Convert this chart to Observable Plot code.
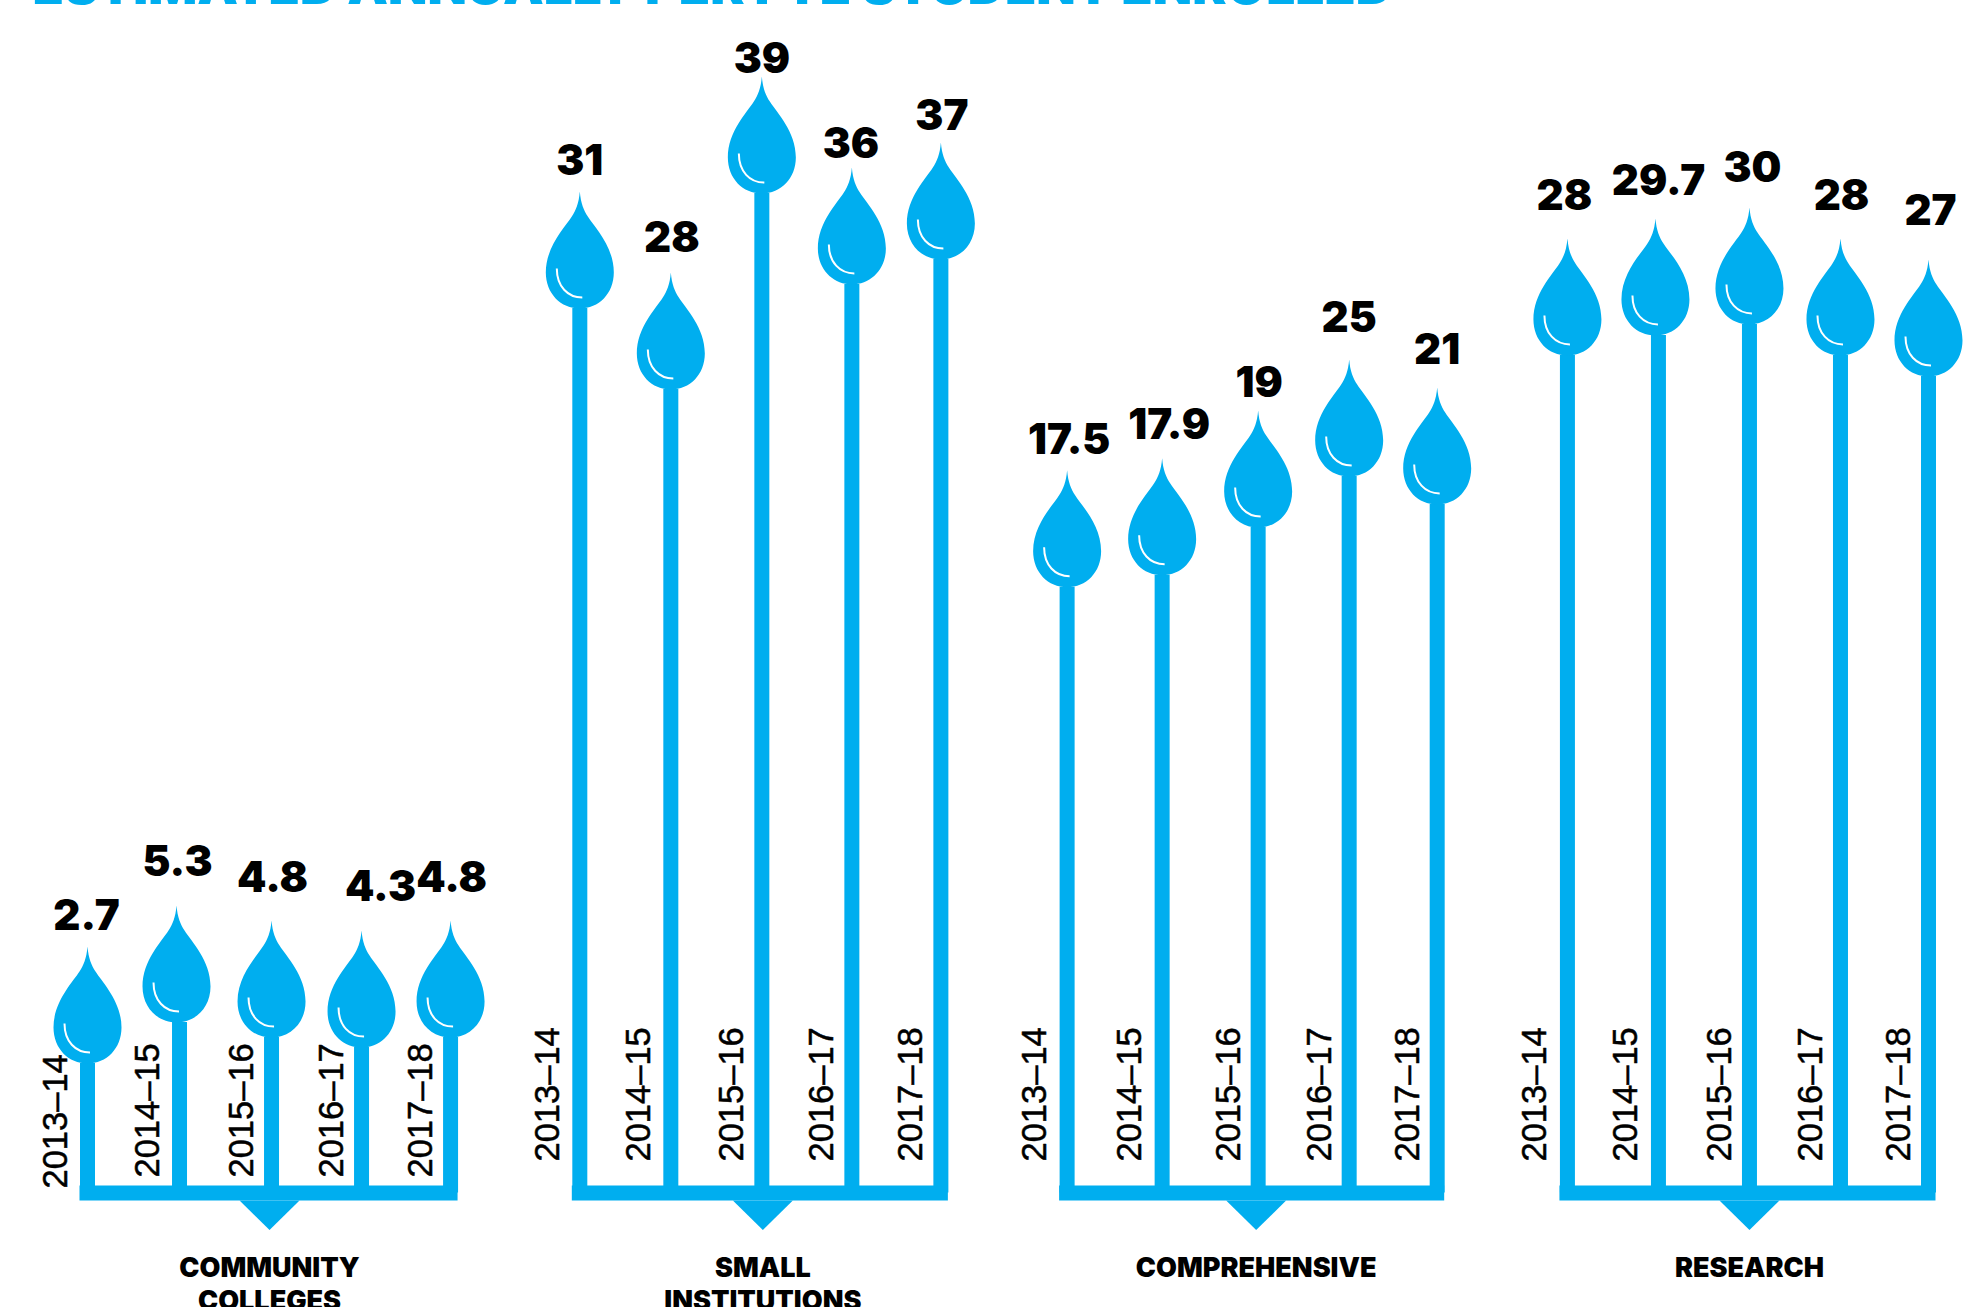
<!DOCTYPE html>
<html><head><meta charset="utf-8">
<script src="https://cdn.jsdelivr.net/npm/d3@7"></script>
<script src="https://cdn.jsdelivr.net/npm/@observablehq/plot@0.6"></script>
<style>html,body{margin:0;padding:0;background:#fff;overflow:hidden}svg{display:block}</style>
</head><body><div id="chart"></div>
<script>
const groups = ["COMMUNITY\nCOLLEGES", "SMALL\nINSTITUTIONS", "COMPREHENSIVE", "RESEARCH"];
const years = ["2013–14", "2014–15", "2015–16", "2016–17", "2017–18"];
const valueLabels = [
  ["2.7", "5.3", "4.8", "4.3", "4.8"],
  ["31", "28", "39", "36", "37"],
  ["17.5", "17.9", "19", "25", "21"],
  ["28", "29.7", "30", "28", "27"]
];
// Stem heights as drawn in the picture (the drawing is not strictly to scale)
const stemHeights = [
  [5.05, 6.65, 6.06, 5.67, 6.06],
  [34.49, 31.33, 38.97, 35.43, 36.40],
  [23.62, 24.09, 25.95, 27.94, 26.85],
  [32.66, 33.44, 33.87, 32.66, 31.84]
];
const titleText = "ESTIMATED ANNUALLY PER FTE STUDENT ENROLLED";

const blue = "#00AEEF";
const groupStep = 5.42;
const pxPerSlot = 91;
// layout tweaks, px: hand-drawn irregularity of the stems and their numbers
const stemNudge = [[0,1,2,1,-1],[-1,-1,-1,-2,-4],[-7,-3,2,2,-1],[0,0,0,0,-3]];
const labelNudge = [[-1,-2,1,19,1],[0,1,0,-1,1],[2,7,1,0,0],[-3,0,3,1,2]];
const tipGap = [
  [16, 29, 29, 30, 29],
  [16, 21, 4, 9, 13],
  [16, 19, 14, 27, 23],
  [28, 23, 25, 28, 34]
];
const rows = groups.flatMap((g, gi) => years.map((year, i) => ({
  g: gi, i, year, slot: gi * groupStep + i + stemNudge[gi][i] / pxPerSlot,
  label: valueLabels[gi][i], h: stemHeights[gi][i]
})));
const bases = groups.map((name, gi) => ({
  name,
  x1: rows[gi * 5].slot,
  x2: rows[gi * 5 + 4].slot,
  mid: gi * groupStep + 2
}));

const unit = 1192.5 / 46.5;
const dropHeight = 117;

const R = 60;
const scaled = size => Math.sqrt(size / Math.PI) / R;
const dropSymbol = {draw(c, size) {
  const s = scaled(size);
  const p = (x, y) => [x * s, y * s];
  c.moveTo(...p(0, -117));
  c.bezierCurveTo(...p(-1, -105), ...p(-4, -98), ...p(-8, -92));
  c.bezierCurveTo(...p(-15, -81), ...p(-34, -62), ...p(-34, -36));
  c.bezierCurveTo(...p(-34, -15), ...p(-19, 0), ...p(0, 0));
  c.bezierCurveTo(...p(19, 0), ...p(34, -15), ...p(34, -36));
  c.bezierCurveTo(...p(34, -62), ...p(15, -81), ...p(8, -92));
  c.bezierCurveTo(...p(4, -98), ...p(1, -105), ...p(0, -117));
  c.closePath();
}};
const glintSymbol = {draw(c, size) {
  const s = scaled(size);
  c.moveTo(-23 * s, -40 * s);
  c.bezierCurveTo(-23 * s, -22 * s, -12 * s, -11 * s, 2.5 * s, -11 * s);
}};
const notchSymbol = {draw(c, size) {
  const s = scaled(size);
  c.moveTo(-30 * s, 7.5 * s);
  c.lineTo(30 * s, 7.5 * s);
  c.lineTo(0, 37 * s);
  c.closePath();
}};
const dropX = d => d.slot - ((d.g === 0 || d.g === 3) && d.i === 1 ? 3 / pxPerSlot : 0);

const chart = Plot.plot({
  width: 1965, height: 1307,
  marginLeft: 87, marginRight: 34, marginTop: 0, marginBottom: 114.5,
  x: {axis: null, domain: [0, 3 * groupStep + 4]},
  y: {axis: null, domain: [0, 46.5]},
  r: {type: "identity"},
  marks: [
    Plot.text([titleText], {frameAnchor: "top-left", dx: -55, dy: -33, lineAnchor: "top",
      fill: blue, fontFamily: "Inter", fontWeight: 900, fontSize: 51.3, text: d => d}),
    Plot.ruleX(rows, {x: "slot", y1: 0, y2: "h", stroke: blue, strokeWidth: 15}),
    Plot.ruleY(bases, {y: 0, x1: "x1", x2: "x2", stroke: blue, strokeWidth: 15, strokeLinecap: "square"}),
    Plot.dot(bases, {x: "mid", y: 0, r: R, symbol: notchSymbol, fill: blue, stroke: "none"}),
    Plot.dot(rows, {x: dropX, y: "h", r: R, symbol: dropSymbol, fill: blue, stroke: "none"}),
    Plot.dot(rows, {x: dropX, y: "h", r: R, symbol: glintSymbol, fill: "none", stroke: "white", strokeWidth: 2}),
    Plot.text(rows, {
      x: d => d.slot + labelNudge[d.g][d.i] / pxPerSlot,
      y: d => d.h + (dropHeight + tipGap[d.g][d.i]) / unit,
      text: "label", lineAnchor: "bottom",
      fontFamily: "Inter", fontWeight: 900, fontSize: 42, fill: "black"
    }),
    Plot.text(rows, {
      x: d => d.slot + (d.i < 2 ? -2.5 : 0) / pxPerSlot,
      y: d => (d.g === 0 ? (d.i === 0 ? 4.5 : 15.5) : 31.5) / unit,
      dx: -29.5, text: "year", rotate: -90, textAnchor: "start", lineAnchor: "middle",
      fontFamily: "Liberation Sans", fontSize: 34.5, fill: "black", stroke: "black", strokeWidth: 0.5
    }),
    Plot.text(bases, {
      x: "mid", y: 0, dy: 61, text: "name", lineAnchor: "top", lineHeight: 1.22,
      fontFamily: "Inter", fontWeight: 900, fontSize: 27, fill: "black"
    })
  ]
});
document.getElementById("chart").append(chart);
</script></body></html>
